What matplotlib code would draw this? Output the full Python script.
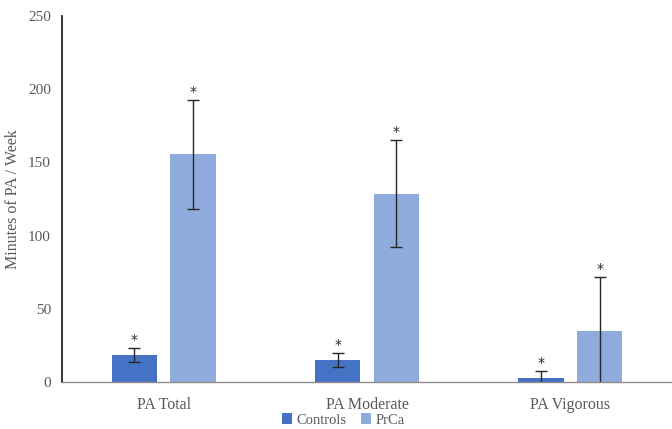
import matplotlib
matplotlib.use("Agg")
import matplotlib.pyplot as plt
import numpy as np

categories = ["PA Total", "PA Moderate", "PA Vigorous"]
series_names = ["Controls", "PrCa"]
controls = [18.5, 14.8, 2.7]
controls_err = [4.6, 4.7, 4.8]
prca = [155.5, 128.5, 34.5]
prca_err = [37.0, 36.5, 37.0]
yticks = [0, 50, 100, 150, 200, 250]

plt.rcParams['font.family'] = ['Liberation Serif', 'DejaVu Serif']
txt = '#595959'

fig = plt.figure(figsize=(6.72, 4.29), dpi=100)
ax = fig.add_axes([62/672, 1-382/429, 610/672, 366/429])

x = np.arange(len(categories))
w = 0.224
off = 0.144
c1, c2 = '#4472C4', '#8FAADC'
ax.bar(x - off, controls, w, color=c1, yerr=controls_err, capsize=4,
       error_kw=dict(ecolor='#262626', elinewidth=1, capthick=1), label=series_names[0], zorder=2)
ax.bar(x + off, prca, w, color=c2, yerr=prca_err, capsize=4,
       error_kw=dict(ecolor='#262626', elinewidth=1, capthick=1), label=series_names[1], zorder=2)

for xs, vals, errs in [(x - off, controls, controls_err), (x + off, prca, prca_err)]:
    for xi, v, e in zip(xs, vals, errs):
        ax.annotate('*', (xi, v + e), xytext=(0, 1), textcoords='offset points',
                    ha='center', va='bottom', fontsize=10, color='#262626',
                    family='DejaVu Sans')

ax.set_xlim(-0.5, 2.5)
ax.set_ylim(0, 250)
ax.set_yticks(yticks)
ax.set_xticks(x)
ax.set_xticklabels(categories)
ax.tick_params(axis='both', length=0, labelsize=11, colors=txt)
ax.tick_params(axis='x', labelsize=11.5, pad=11)
ax.tick_params(axis='y', pad=8)
for s in ['top', 'right']:
    ax.spines[s].set_visible(False)
ax.spines['left'].set_color('#262626')
ax.spines['left'].set_linewidth(1.3)
ax.spines['bottom'].set_color('#8c8c8c')
ax.spines['bottom'].set_linewidth(1)
ax.set_ylabel('Minutes of PA / Week', fontsize=11.5, color=txt)
ax.yaxis.set_label_coords(-41/610, 0.5)

leg = fig.legend(loc='center', bbox_to_anchor=(343/672, 9/429), ncol=2, frameon=False,
                 fontsize=10.5, handlelength=0.7, handleheight=0.7, handletextpad=0.3,
                 columnspacing=1.0, labelcolor=txt)

fig.savefig('out.png', dpi=100)
